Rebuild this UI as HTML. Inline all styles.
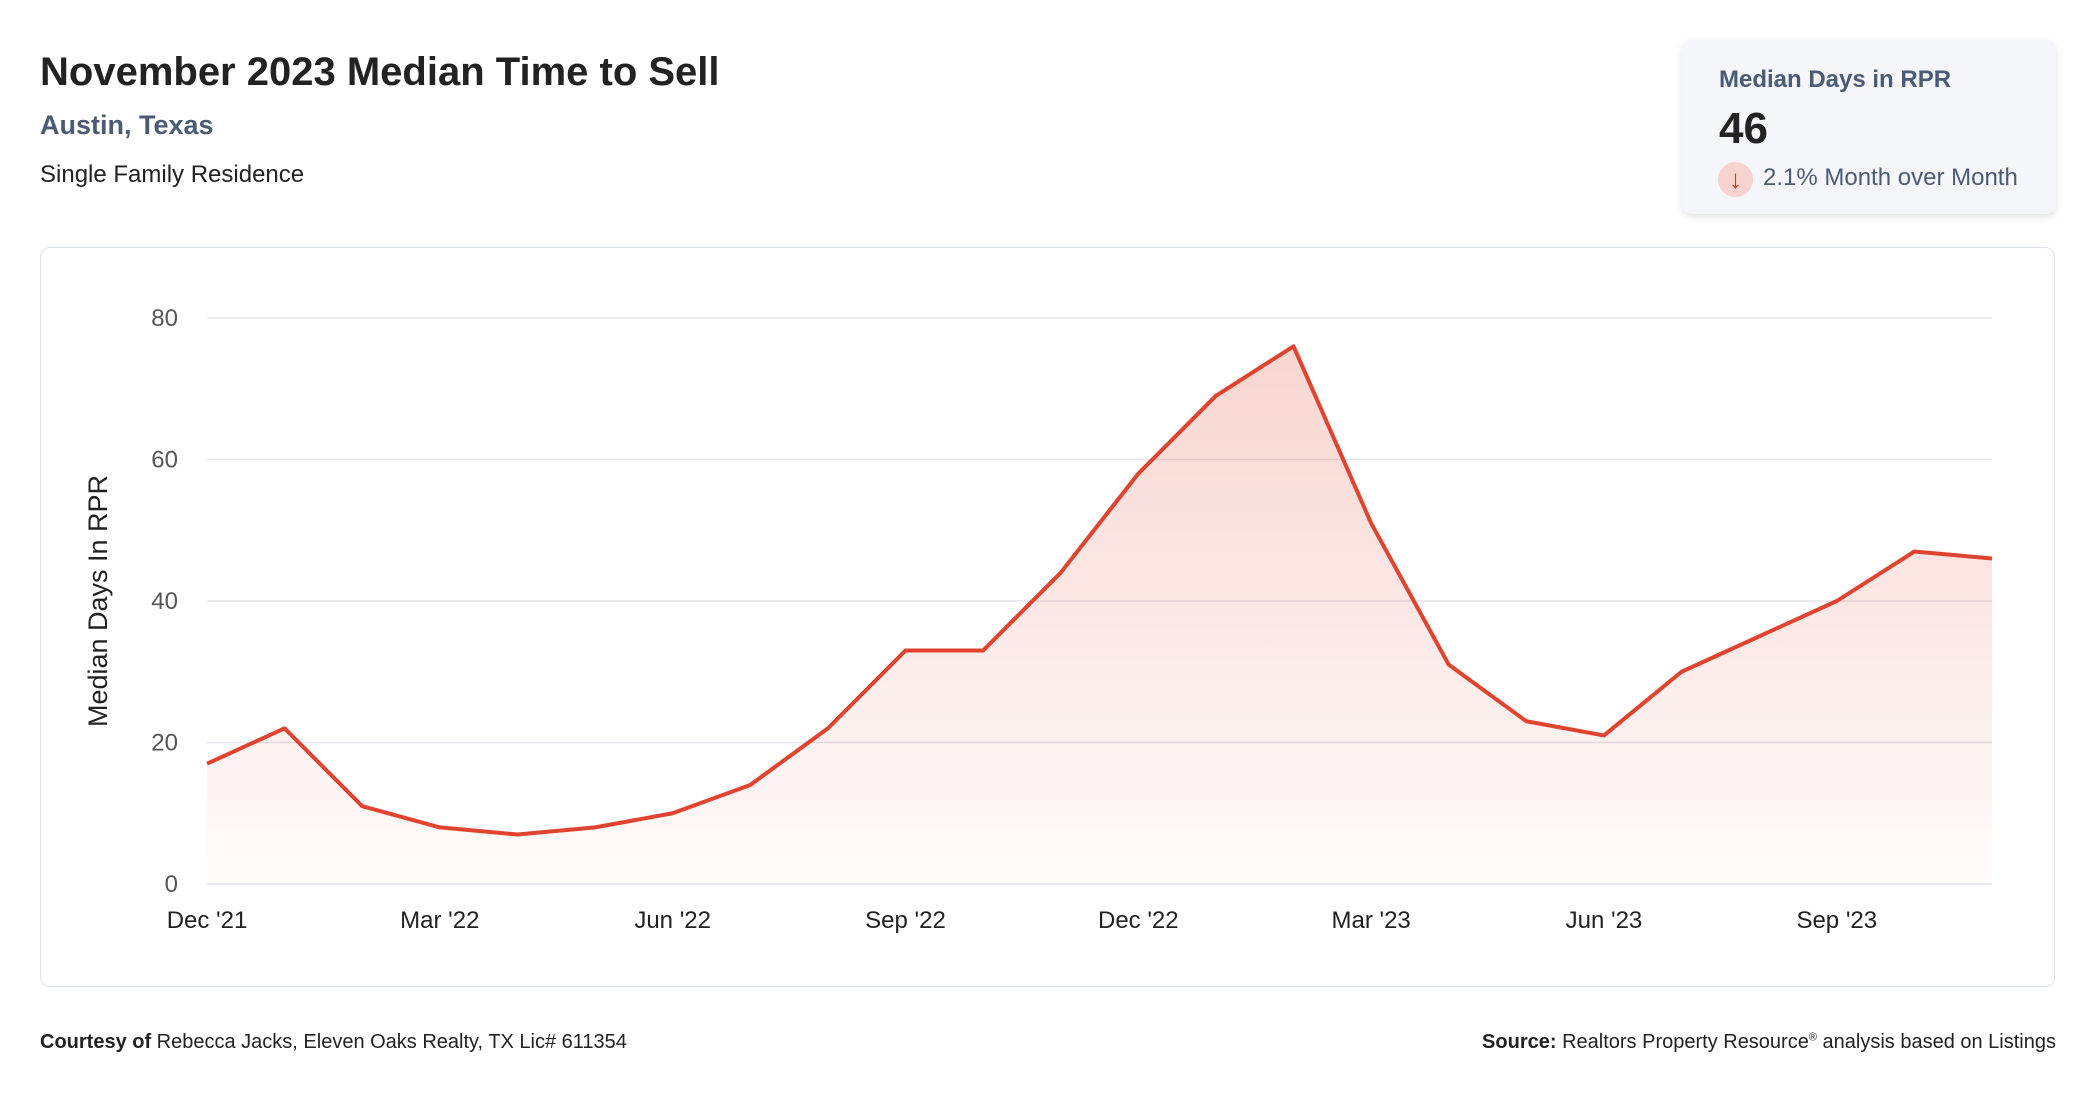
<!DOCTYPE html>
<html><head><meta charset="utf-8"><style>
body{margin:0;width:2096px;height:1100px;background:#fff;font-family:"Liberation Sans",sans-serif;position:relative;overflow:hidden}
.a{position:absolute;white-space:nowrap}
</style></head><body>
<div class="a" style="left:40px;top:50px;font-size:40px;font-weight:bold;color:#222">November 2023 Median Time to Sell</div>
<div class="a" style="left:40px;top:110px;font-size:27px;font-weight:bold;color:#4b5b75">Austin, Texas</div>
<div class="a" style="left:40px;top:161px;font-size:24px;color:#222">Single Family Residence</div>
<div class="a" style="left:1682px;top:40px;width:374px;height:174px;background:#f5f6fa;border-radius:10px;box-shadow:0 3px 8px rgba(0,0,0,0.12)">
 <div class="a" style="left:37px;top:26px;font-size:24px;font-weight:bold;color:#4b5b75">Median Days in RPR</div>
 <div class="a" style="left:37px;top:64px;font-size:44px;font-weight:bold;color:#222">46</div>
 <div class="a" style="left:36px;top:122px;width:35px;height:35px;border-radius:50%;background:#f6d3cc;color:#d23a22;font-size:26px;text-align:center;line-height:35px">↓</div>
 <div class="a" style="left:81px;top:124px;font-size:24px;color:#4b5b75">2.1% Month over Month</div>
</div>
<div class="a" style="left:40px;top:247px;width:2013px;height:738px;border:1.5px solid #dde1ea;border-radius:10px"></div>
<svg class="a" style="left:0;top:0" width="2096" height="1100" id="svg">
<defs><linearGradient id="g" x1="0" y1="0" x2="0" y2="1"><stop offset="0" stop-color="#e0432e" stop-opacity="0.22"/><stop offset="1" stop-color="#e0432e" stop-opacity="0.02"/></linearGradient></defs>
<text transform="translate(107,601) rotate(-90)" text-anchor="middle" font-size="27" fill="#222" font-family="Liberation Sans">Median Days In RPR</text>
</svg>
<div class="a" style="left:40px;top:1031px;font-size:20px;color:#222"><b>Courtesy of</b> Rebecca Jacks, Eleven Oaks Realty, TX Lic# 611354</div>
<div class="a" style="right:40px;top:1031px;font-size:20px;color:#222"><b>Source:</b> Realtors Property Resource<sup style="font-size:11px">®</sup> analysis based on Listings</div>
<script>
const months=["Dec '21","Jan '22","Feb '22","Mar '22","Apr '22","May '22","Jun '22","Jul '22","Aug '22","Sep '22","Oct '22","Nov '22","Dec '22","Jan '23","Feb '23","Mar '23","Apr '23","May '23","Jun '23","Jul '23","Aug '23","Sep '23","Oct '23","Nov '23"];
const values=[17,22,11,8,7,8,10,14,22,33,33,44,58,69,76,51,31,23,21,30,35,40,47,46];
const yTicks=[0,20,40,60,80];
const xTickIdx=[0,3,6,9,12,15,18,21];
const NS="http://www.w3.org/2000/svg",svg=document.getElementById('svg');
const x0=207,x1=1992,y0=884,y80=318;
const X=i=>x0+(x1-x0)*i/(months.length-1);
const Y=v=>y0+(y80-y0)*v/80;
function mk(t,a){const e=document.createElementNS(NS,t);for(const k in a)e.setAttribute(k,a[k]);svg.appendChild(e);return e;}
yTicks.forEach(t=>{
 const l=mk('line',{x1:x0,x2:x1,y1:Y(t),y2:Y(t),stroke:'#e3e5ea','stroke-width':1.5});
 
 
 const tx=mk('text',{x:178,y:Y(t)+8,'text-anchor':'end','font-size':24,fill:'#555','font-family':'Liberation Sans'});
 tx.textContent=t;
 
 
});
xTickIdx.forEach(i=>{
 const tx=mk('text',{x:X(i),y:928,'text-anchor':'middle','font-size':24,fill:'#222','font-family':'Liberation Sans'});
 tx.textContent=months[i];
 
 
});
const pts=values.map((v,i)=>X(i)+','+Y(v)).join(' ');
const area=mk('polygon',{points:X(0)+','+y0+' '+pts+' '+X(values.length-1)+','+y0,fill:'url(#g)'});


const line=mk('polyline',{points:pts,fill:'none',stroke:'#e0432e','stroke-width':4,'stroke-linejoin':'round'});


</script>
</body></html>
